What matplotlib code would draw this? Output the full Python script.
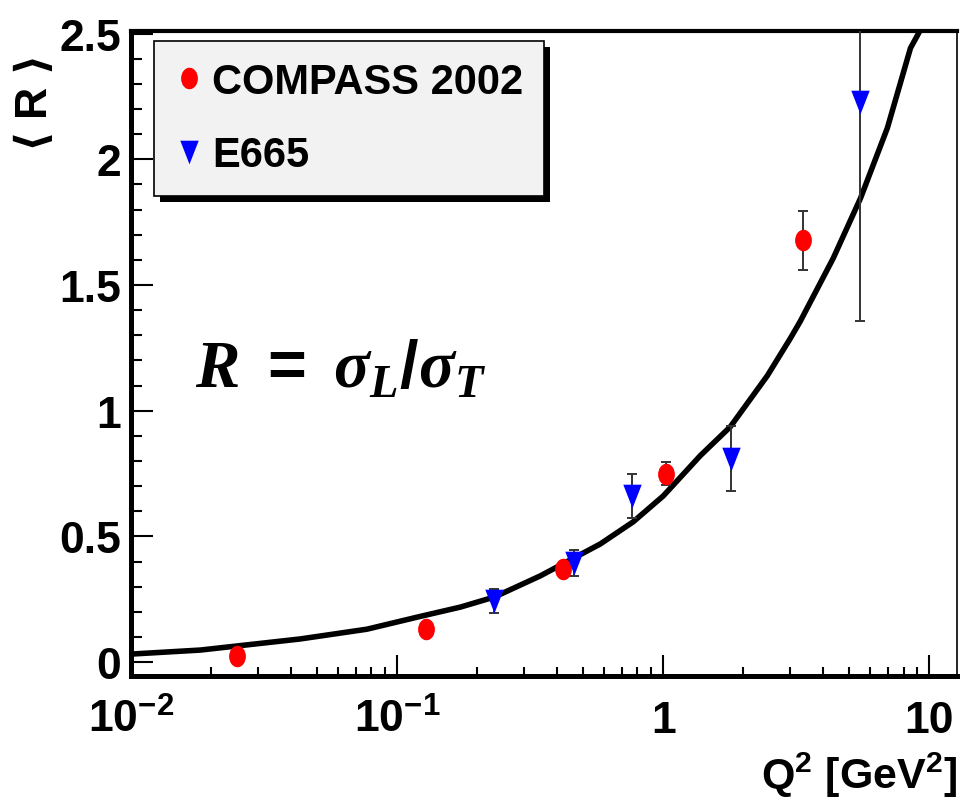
import numpy as np
import matplotlib
matplotlib.use('Agg')
from matplotlib import pyplot as plt
from matplotlib import font_manager as fm
from matplotlib.path import Path
from matplotlib.transforms import Affine2D, IdentityTransform
from matplotlib.lines import Line2D
from matplotlib.patches import Rectangle
from matplotlib.ticker import MultipleLocator, LogLocator, NullFormatter, FixedLocator

# --- data ---
compass_q2 = [0.025, 0.128, 0.42, 1.02, 3.35]
compass_r = [0.025, 0.131, 0.37, 0.749, 1.678]
compass_err = [0.01, 0.012, 0.015, 0.045, 0.118]

e665_q2 = [0.232, 0.462, 0.765, 1.79, 5.5]
e665_r = [0.243, 0.394, 0.661, 0.809, 2.229]
e665_err = [0.048, 0.052, 0.088, 0.129, 0.874]

fit_q2 = [0.01, 0.0182, 0.0431, 0.077, 0.119, 0.173, 0.232, 0.345, 0.58, 0.771,
          1.0, 1.377, 1.786, 2.46, 3.0, 3.27, 4.35, 5.51, 6.95, 8.49, 9.25]
fit_r = [0.032, 0.048, 0.092, 0.131, 0.179, 0.219, 0.259, 0.343, 0.470, 0.558,
         0.661, 0.821, 0.936, 1.139, 1.287, 1.355, 1.606, 1.845, 2.124, 2.442, 2.514]

xtick_vals = [0.01, 0.1, 1, 10]
xtick_labels = [r'10$^{-2}$', r'10$^{-1}$', '1', '10']
ytick_vals = [0, 0.5, 1, 1.5, 2, 2.5]
ytick_labels = ['0', '0.5', '1', '1.5', '2', '2.5']

# --- fonts ---
names = {f.name for f in fm.fontManager.ttflist}
fam = 'Liberation Sans Narrow' if 'Liberation Sans Narrow' in names else 'Liberation Sans'
plt.rcParams['font.family'] = [fam, 'DejaVu Sans']
plt.rcParams['font.weight'] = 'bold'
plt.rcParams['mathtext.fontset'] = 'custom'
plt.rcParams['mathtext.rm'] = fam + ':bold'
plt.rcParams['mathtext.bf'] = fam + ':bold'
plt.rcParams['mathtext.it'] = 'Liberation Serif:italic:bold'
plt.rcParams['mathtext.default'] = 'rm'

# elongated markers like the ROOT output
ellipse = Path.unit_circle().transformed(Affine2D().scale(0.78, 1.0))
tri_down = Path([(-0.39, 0.5), (0.39, 0.5), (0.0, -0.5), (-0.39, 0.5)],
                [Path.MOVETO, Path.LINETO, Path.LINETO, Path.CLOSEPOLY])

fig = plt.figure(figsize=(9.6, 8.12), dpi=100)
ax = fig.add_axes([0.1365, 0.1663, 0.8604, 0.7943])

ax.plot(fit_q2, fit_r, color='black', lw=4.0, zorder=2, solid_joinstyle='round')

ax.errorbar(compass_q2, compass_r, yerr=compass_err, fmt='none', ecolor='#333333',
            elinewidth=1.4, capsize=3.6, capthick=1.4, zorder=3)
ax.plot(compass_q2, compass_r, ls='none', marker=ellipse, ms=15.5,
        color='#ff0000', mec='none', zorder=4)

ax.errorbar(e665_q2, e665_r, yerr=e665_err, fmt='none', ecolor='#333333',
            elinewidth=1.4, capsize=3.6, capthick=1.4, zorder=3)
ax.plot(e665_q2, e665_r, ls='none', marker=tri_down, ms=17,
        color='#0000ff', mec='none', zorder=4)

ax.set_xscale('log')
ax.set_xlim(0.01, 12.7)
ax.set_ylim(-0.055, 2.51)

ax.xaxis.set_major_locator(FixedLocator(xtick_vals))
ax.set_xticklabels(xtick_labels)
ax.xaxis.set_minor_locator(LogLocator(base=10, subs=np.arange(2, 10)))
ax.xaxis.set_minor_formatter(NullFormatter())
ax.set_yticks(ytick_vals)
ax.set_yticklabels(ytick_labels)
ax.yaxis.set_minor_locator(MultipleLocator(0.1))

ax.tick_params(which='both', direction='in', top=False, right=False, width=1.5)
ax.tick_params(axis='y', which='major', length=16, pad=7, labelsize=32)
ax.tick_params(axis='y', which='minor', length=8)
ax.tick_params(axis='x', which='major', length=15, pad=40, labelsize=32)
ax.tick_params(axis='x', which='minor', length=6.5)
plt.setp(ax.get_xticklabels(), va='baseline')

for s in ['left', 'bottom']:
    ax.spines[s].set_linewidth(3.6)
ax.spines['top'].set_linewidth(3.0)
ax.spines['right'].set_linewidth(1.2)

# formula
ax.text(0.077, 0.476,
        r'$\mathit{R}\ =\ \mathit{\sigma}_{\mathit{L}}/\mathit{\sigma}_{\mathit{T}}$',
        transform=ax.transAxes, fontsize=48, ha='left', va='center')

# legend
handles = [Line2D([], [], ls='none', marker=ellipse, ms=15.5, color='#ff0000', mec='none'),
           Line2D([], [], ls='none', marker=tri_down, ms=17, color='#0000ff', mec='none')]
leg = ax.legend(handles, ['COMPASS 2002', 'E665'], loc='upper left',
                bbox_to_anchor=(0.0278, 0.9845), borderaxespad=0, fontsize=30,
                frameon=True, fancybox=False, shadow=False,
                facecolor='#f2f2f2', edgecolor='black', framealpha=1,
                borderpad=0.5, labelspacing=0.8, handlelength=0.7,
                handletextpad=0.2)
leg.get_frame().set_linewidth(1.2)
leg.set_zorder(6)

# solid shadow under the legend box, as ROOT draws it
fig.canvas.draw()
bb = leg.get_frame().get_window_extent()
ax.add_patch(Rectangle((bb.x0 + 6, bb.y0 - 6), bb.width, bb.height,
                       transform=IdentityTransform(), facecolor='black',
                       edgecolor='none', zorder=5.5, clip_on=False))

# axis titles
fig.text(0.035, 0.93, r'$\langle$ R $\rangle$', rotation=90, fontsize=32,
         math_fontfamily='dejavusans', ha='center', va='top')
fig.text(0.997, 0.015, r'Q$^2$ [GeV$^2$]', fontsize=31, ha='right', va='bottom')

fig.savefig('out.png', dpi=100)
